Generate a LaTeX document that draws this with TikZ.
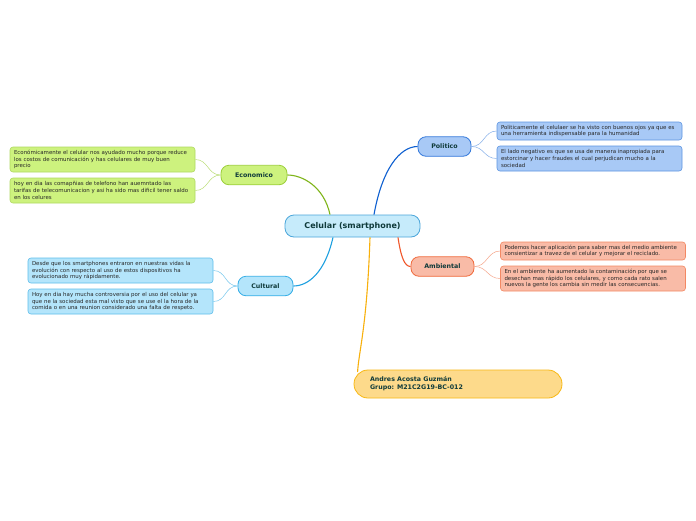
\documentclass[tikz,border=0pt]{standalone}
\usepackage{fontspec}
\setmainfont{DejaVu Sans}
\hyphenpenalty=10000 \exhyphenpenalty=10000 \relax
\definecolor{cenF}{HTML}{C6EBFB}\definecolor{cenD}{HTML}{4BA6DA}
\definecolor{ecoF}{HTML}{CDF27E}\definecolor{ecoD}{HTML}{9CCF3A}\definecolor{ecoL}{HTML}{7FB519}
\definecolor{culF}{HTML}{B4E5FB}\definecolor{culD}{HTML}{36AEE6}\definecolor{culL}{HTML}{1EA0E0}
\definecolor{polF}{HTML}{A8C9F6}\definecolor{polD}{HTML}{3479DB}\definecolor{polL}{HTML}{0D5FD0}
\definecolor{ambF}{HTML}{F9BBA7}\definecolor{ambD}{HTML}{F06A3C}\definecolor{ambL}{HTML}{F0562A}
\definecolor{andF}{HTML}{FDDA8B}\definecolor{andD}{HTML}{F8B814}\definecolor{andL}{HTML}{F8B00C}
\definecolor{txt}{HTML}{0F3A3A}
\begin{document}
\begin{tikzpicture}[x=1pt,y=-1pt,
 central/.style={draw=cenD,fill=cenF,rounded corners=9pt,line width=0.8pt,minimum width=135pt,minimum height=22pt,font=\bfseries\fontsize{8}{9}\selectfont,text=txt,inner sep=0pt},
 branch/.style={rounded corners=8pt,line width=0.8pt,minimum height=19.5pt,font=\bfseries\fontsize{6.3}{7}\selectfont,text=txt,inner sep=0pt},
 leaf/.style={rounded corners=3pt,line width=0.6pt,text width=177pt,align=left,inner xsep=4pt,inner ysep=0pt,font=\fontsize{5.45}{6.7}\selectfont,text=black!85},
 main/.style={line width=1.1pt},
 sub/.style={line width=0.5pt}]
\fill[white] (0,0) rectangle (696,520);
\useasboundingbox (0,0) rectangle (696,520);
% central
\node[central] (c) at (352.5,226) {Celular (smartphone)};
% branches
\node[branch,draw=ecoD,fill=ecoF,minimum width=66pt] (eco) at (254,175) {Economico};
\node[branch,draw=culD,fill=culF,minimum width=55pt] (cul) at (265.5,286) {Cultural};
\node[branch,draw=polD,fill=polF,minimum width=53pt] (pol) at (444.5,146.5) {Politico};
\node[branch,draw=ambD,fill=ambF,minimum width=63pt] (amb) at (442.5,266.5) {Ambiental};
\node[draw=andD,fill=andF,rounded corners=14pt,line width=0.8pt,minimum width=208pt,minimum height=28pt,font=\bfseries\fontsize{6.3}{8}\selectfont,text=txt,align=left,inner sep=0pt] (and) at (458,384) {\begin{minipage}{176pt}Andres Acosta Guzmán\\Grupo: M21C2G19-BC-012\end{minipage}};
% leaves
\node[leaf,draw=ecoD!80,fill=ecoF,minimum height=25pt] (e1) at (102.5,159.5) {Económicamente el celular nos ayudado mucho porque reduce\\los costos de comunicación y has celulares de muy buen\\precio};
\node[leaf,draw=ecoD!80,fill=ecoF,minimum height=25pt] (e2) at (102.5,190.5) {hoy en dia las comapñias de telefono han auemntado las\\tarifas de telecomunicacion y asi ha sido mas dificil tener saldo\\en los celures};
\node[leaf,draw=culD!80,fill=culF,minimum height=25pt] (u1) at (120.5,270.5) {Desde que los smartphones entraron en nuestras vidas la\\evolución con respecto al uso de estos dispositivos ha\\evolucionado muy rápidamente.};
\node[leaf,draw=culD!80,fill=culF,minimum height=25pt] (u2) at (120.5,301.5) {Hoy en dia hay mucha controversia por el uso del celular ya\\que ne la sociedad esta mal visto que se use el la hora de la\\comida o en una reunion considerado una falta de respeto.};
\node[leaf,draw=polD!80,fill=polF,minimum height=18pt] (p1) at (589.5,131) {Politicamente el celulaer se ha visto con buenos ojos ya que es\\una herramienta indispensable para la humanidad};
\node[leaf,draw=polD!80,fill=polF,minimum height=25pt] (p2) at (589.5,158.5) {El lado negativo es que se usa de manera inapropiada para\\estorcinar y hacer fraudes el cual perjudican mucho a la\\sociedad};
\node[leaf,draw=ambD!80,fill=ambF,minimum height=18pt] (a1) at (593,251) {Podemos hacer aplicación para saber mas del medio ambiente\\consientizar a travez de el celular y mejorar el reciclado.};
\node[leaf,draw=ambD!80,fill=ambF,minimum height=25pt] (a2) at (593,278.5) {En el ambiente ha aumentado la contaminación por que se\\desechan mas rápido los celulares, y como cada rato salen\\nuevos la gente los cambia sin medir las consecuencias.};
% main connectors
\draw[main,ecoL] ([xshift=-22.5pt]c.north) .. controls +(-6,-28) and +(15,0) .. (eco.east);
\draw[main,polL] ([xshift=21.5pt]c.north) .. controls +(8,-45) and +(-18,0) .. (pol.west);
\draw[main,culL] ([xshift=-19.5pt]c.south) .. controls +(-8,35) and +(15,0) .. (cul.east);
\draw[main,ambL] ([xshift=45.5pt]c.south) .. controls +(3,20) and +(-6,0) .. (amb.west);
\draw[main,andL] ([xshift=17.5pt]c.south) .. controls +(-3,90) and +(1,-20) .. ([xshift=4pt,yshift=12pt]and.west);
% sub connectors
\draw[sub,ecoD!70] (eco.west) .. controls +(-13,0) and +(13,0) .. (e1.east);
\draw[sub,ecoD!70] (eco.west) .. controls +(-13,0) and +(13,0) .. (e2.east);
\draw[sub,culD!70] (cul.west) .. controls +(-13,0) and +(13,0) .. (u1.east);
\draw[sub,culD!70] (cul.west) .. controls +(-13,0) and +(13,0) .. (u2.east);
\draw[sub,polD!60] (pol.east) .. controls +(13,0) and +(-13,0) .. (p1.west);
\draw[sub,polD!60] (pol.east) .. controls +(13,0) and +(-13,0) .. (p2.west);
\draw[sub,ambD!60] (amb.east) .. controls +(13,0) and +(-13,0) .. (a1.west);
\draw[sub,ambD!60] (amb.east) .. controls +(13,0) and +(-13,0) .. (a2.west);
\end{tikzpicture}
\end{document}
